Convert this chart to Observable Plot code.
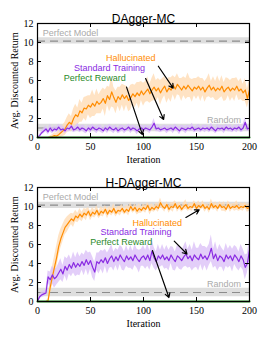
<!DOCTYPE html>
<html><head><meta charset="utf-8">
<script src="https://cdn.jsdelivr.net/npm/d3@7"></script>
<script src="https://cdn.jsdelivr.net/npm/@observablehq/plot@0.6"></script>
<style>body{margin:0;background:#fff} svg{display:block}</style>
</head><body><div id="c"></div><script>
const iterations = d3.range(0, 201, 2);
const yTicks = [0, 2, 4, 6, 8, 10, 12];
const xTicks = [0, 50, 100, 150, 200];

// ---- DAgger-MC ----
const hall1Mean = [
 0,0,0,0,0,0,0.05,0.1,0.2,0.15,
 0.3,0.5,0.7,0.9,1.3,1.6,1.4,2.0,2.4,2.2,
 2.8,2.6,3.1,3.0,3.4,3.2,3.6,3.3,3.8,3.5,
 3.7,4.1,3.6,4.4,4.0,4.8,4.2,3.7,4.3,4.0,
 4.5,4.1,4.4,3.9,4.2,4.6,4.3,4.7,4.4,4.9,
 4.5,4.8,5.1,4.6,5.0,5.3,4.9,5.2,4.7,5.1,
 5.4,4.8,5.2,5.0,5.5,5.1,5.6,5.3,5.0,5.4,
 5.1,5.5,5.2,4.9,5.3,5.1,5.4,5.0,5.3,4.8,
 5.2,5.5,5.0,5.3,4.9,5.2,5.0,5.4,4.8,5.1,
 5.3,4.9,5.2,5.0,5.4,4.9,5.1,4.7,5.0,4.1,
 5.0];
const hall1Spread = [
 0,0,0,0,0,0,0.1,0.2,0.3,0.3,
 0.4,0.5,0.6,0.7,0.8,0.9,0.8,1.0,1.1,0.9,
 1.2,1.0,1.1,1.3,1.0,1.2,1.4,1.1,1.3,1.0,
 1.2,1.1,1.4,1.0,1.3,1.6,1.1,1.2,1.0,1.3,
 1.1,1.4,1.0,1.2,1.3,1.0,1.2,1.1,1.4,1.0,
 1.2,1.1,1.3,1.0,1.2,1.4,1.1,1.0,1.3,1.1,
 1.0,1.2,1.1,1.3,1.0,1.2,1.1,0.9,1.2,1.0,
 1.1,1.3,1.0,1.2,0.9,1.1,1.0,1.2,0.9,1.1,
 1.0,1.2,0.9,1.1,1.0,1.3,0.9,1.1,1.0,1.2,
 0.9,1.1,1.0,1.2,0.9,1.0,1.1,0.9,1.2,1.0,
 1.0];
const std1Mean = [
 0,0.2,0.5,0.7,0.9,0.6,1.0,0.7,0.9,0.8,
 1.1,0.8,0.9,0.7,1.0,0.9,1.2,0.8,0.9,1.1,
 0.8,1.0,0.9,0.7,1.0,0.8,1.1,0.9,0.8,1.0,
 0.9,0.7,1.0,0.8,1.1,0.9,0.8,1.0,0.7,0.9,
 1.0,0.8,0.9,1.1,0.8,1.0,0.9,0.7,0.9,1.0,
 0.8,1.0,0.9,0.8,1.1,1.5,0.9,1.0,0.8,0.9,
 1.0,0.8,0.9,1.0,0.8,1.1,0.9,0.7,1.0,0.9,
 0.8,1.0,0.9,1.1,0.8,0.9,1.0,0.8,1.0,0.9,
 1.0,0.8,1.1,0.9,0.7,1.0,0.9,1.0,0.8,1.1,
 0.9,1.0,0.8,1.0,0.9,1.1,0.8,1.0,1.6,0.9,
 1.0];
const std1Spread = [
 0,0.1,0.2,0.3,0.3,0.3,0.4,0.3,0.3,0.3,
 0.3,0.4,0.3,0.3,0.4,0.3,0.4,0.3,0.3,0.4,
 0.3,0.3,0.4,0.3,0.3,0.4,0.3,0.3,0.4,0.3,
 0.4,0.3,0.3,0.4,0.3,0.3,0.4,0.3,0.3,0.4,
 0.3,0.4,0.3,0.3,0.4,0.3,0.3,0.4,0.3,0.3,
 0.4,0.3,0.3,0.4,0.3,0.5,0.3,0.4,0.3,0.3,
 0.3,0.4,0.3,0.3,0.4,0.3,0.3,0.4,0.3,0.3,
 0.4,0.3,0.3,0.4,0.3,0.3,0.4,0.3,0.3,0.4,
 0.3,0.3,0.4,0.3,0.3,0.4,0.3,0.3,0.4,0.3,
 0.3,0.4,0.3,0.3,0.4,0.3,0.3,0.4,0.5,0.3,
 0.3];

// ---- H-DAgger-MC ----
const hall2Mean = [
 0,0,0,0,0,0.1,1.5,2.6,3.6,4.6,
 5.8,6.6,7.2,7.8,8.1,8.4,8.7,8.5,9.0,8.8,
 9.2,8.9,9.3,9.1,9.5,9.0,9.4,9.2,9.6,9.1,
 9.5,9.3,9.7,9.2,9.6,9.4,9.8,9.3,9.6,9.5,
 9.8,9.4,9.7,9.5,10.0,9.6,9.9,9.5,9.8,9.6,
 9.9,9.7,10.1,9.6,9.9,9.7,10.0,9.8,10.4,10.0,
 9.8,10.2,9.7,10.0,9.9,10.3,9.8,10.1,9.7,10.0,
 10.2,9.8,10.0,9.9,10.3,9.8,10.1,9.9,10.2,9.8,
 10.0,9.7,10.3,9.9,10.1,9.8,10.2,9.9,10.0,9.7,
 10.2,9.8,10.0,9.9,10.1,9.8,10.0,9.9,10.1,9.8,
 9.9];
const hall2Spread = [
 0,0,0,0,0,0.2,0.8,1.0,1.1,1.2,
 1.1,1.0,0.9,0.8,0.8,0.7,0.6,0.7,0.6,0.5,
 0.6,0.5,0.5,0.6,0.4,0.5,0.5,0.4,0.5,0.4,
 0.5,0.4,0.4,0.5,0.4,0.4,0.5,0.4,0.4,0.5,
 0.4,0.3,0.4,0.5,0.4,0.3,0.4,0.4,0.5,0.3,
 0.4,0.4,0.3,0.5,0.4,0.3,0.4,0.4,0.5,0.3,
 0.4,0.3,0.4,0.4,0.5,0.3,0.4,0.4,0.3,0.4,
 0.5,0.3,0.4,0.4,0.3,0.4,0.5,0.3,0.4,0.4,
 0.3,0.4,0.5,0.3,0.4,0.4,0.3,0.4,0.5,0.3,
 0.4,0.4,0.3,0.4,0.5,0.3,0.4,0.4,0.3,0.4,
 0.4];
const std2Mean = [
 0,0.5,0.7,0.8,0.9,2.6,2.3,2.8,2.4,2.6,
 3.0,3.4,2.9,3.7,3.3,3.9,3.5,4.1,3.6,4.0,
 3.7,4.2,3.8,4.4,3.9,4.3,3.6,3.1,4.2,4.0,
 4.4,4.1,4.6,4.0,4.5,4.8,4.2,4.7,4.3,4.9,
 4.5,4.2,4.8,4.4,4.7,4.3,4.9,4.5,4.2,4.6,
 4.8,4.4,4.9,4.3,5.3,4.6,4.2,4.8,4.5,4.9,
 4.4,4.7,4.3,4.9,4.5,4.2,4.8,4.6,4.3,4.7,
 5.0,4.5,4.8,4.3,4.9,4.6,4.4,5.0,4.5,4.8,
 4.4,4.9,5.6,4.5,5.0,4.3,4.8,4.6,4.2,4.9,
 4.5,4.8,4.3,4.9,4.6,4.2,4.8,4.4,3.6,4.0,
 5.4];
const std2Spread = [
 0,0.2,0.3,0.3,0.3,0.6,0.8,0.9,1.0,0.9,
 1.0,1.1,0.9,1.0,1.2,1.0,0.9,1.1,1.0,1.2,
 1.0,0.9,1.1,1.0,1.2,0.9,1.1,1.0,0.9,1.1,
 1.0,1.2,0.9,1.1,1.0,1.2,1.0,0.9,1.1,1.0,
 1.2,1.0,1.1,0.9,1.2,1.0,1.1,1.0,1.2,0.9,
 1.1,1.0,1.2,1.0,1.3,1.1,1.0,1.2,0.9,1.1,
 1.0,1.2,1.1,0.9,1.2,1.0,1.1,1.2,1.0,1.1,
 1.3,1.0,1.2,1.1,1.4,1.0,1.2,1.1,1.3,1.0,
 1.2,1.1,1.4,1.0,1.3,1.1,1.2,1.0,1.1,1.2,
 1.0,1.1,1.2,1.0,1.1,1.0,1.2,1.1,1.3,1.0,
 1.1];

const perfectReward = [0, 0];           // at iterations 0 and 200
const perfectRewardIter = [0, 200];
const perfectModel1 = {mean: 10.15, lo: 9.85, hi: 10.5};
const random1 = {mean: 1.0, lo: 0.6, hi: 1.4};
const perfectModel2 = {mean: 10.15, lo: 9.8, hi: 10.45};
const random2 = {mean: 0.95, lo: 0.5, hi: 1.4};

const labels1 = [
  {t: "Perfect Model", x: 5, y: 11.0, c: "#aaaaaa", a: "start"},
  {t: "Random", x: 192, y: 1.85, c: "#aaaaaa", a: "end"},
  {t: "Hallucinated", x: 88, y: 8.35, c: "#ff8c00", a: "middle"},
  {t: "Standard Training", x: 68, y: 7.35, c: "#8a2be2", a: "middle"},
  {t: "Perfect Reward", x: 54, y: 6.3, c: "#2a8a2a", a: "middle"}
];
const labels2 = [
  {t: "Perfect Model", x: 5, y: 11.0, c: "#aaaaaa", a: "start"},
  {t: "Random", x: 192, y: 1.8, c: "#aaaaaa", a: "end"},
  {t: "Hallucinated", x: 113, y: 8.3, c: "#ff8c00", a: "middle"},
  {t: "Standard Training", x: 93, y: 7.27, c: "#8a2be2", a: "middle"},
  {t: "Perfect Reward", x: 79, y: 6.28, c: "#2a8a2a", a: "middle"}
];
const arrows1 = [
  {x1: 114, y1: 7.5, x2: 128, y2: 5.2},
  {x1: 102, y1: 6.2, x2: 119, y2: 1.9},
  {x1: 84, y1: 5.3, x2: 99, y2: 0.3}
];
const arrows2 = [
  {x1: 140, y1: 8.85, x2: 152.5, y2: 9.65},
  {x1: 129, y1: 6.35, x2: 141, y2: 5.0},
  {x1: 108.5, y1: 5.35, x2: 124, y2: 0.42}
];

function chart(title, hallM, hallS, stdM, stdS, pm, rnd, labels, arrows, H) {
  const W = 266, ML = 37, MR = 17, MT = 23, MB = H - 137;
  const fw = W - ML - MR, fh = H - MT - MB;
  const hall = iterations.map((x, i) => ({x, m: hallM[i], lo: hallM[i] - hallS[i], hi: hallM[i] + hallS[i]}));
  const std = iterations.map((x, i) => ({x, m: stdM[i], lo: Math.max(0, stdM[i] - stdS[i]), hi: stdM[i] + stdS[i]}));
  const pr = perfectRewardIter.map((x, i) => ({x, y: perfectReward[i]}));
  const span = [0, 200];
  const serif = "'Liberation Serif', 'DejaVu Serif', serif";
  const sans = "'Liberation Sans', Arial, sans-serif";
  const textFor = anchor => Plot.text(labels.filter(d => d.a === anchor),
    {x: "x", y: "y", text: "t", fill: "c", textAnchor: anchor, fontSize: 9, fontFamily: sans});
  return Plot.plot({
    width: W, height: H,
    marginLeft: ML, marginRight: MR, marginTop: MT, marginBottom: MB,
    style: {fontFamily: sans, fontSize: "10px", background: "white", overflow: "visible"},
    x: {domain: [0, 200]},
    y: {domain: [0, 12]},
    marks: [
      Plot.areaY(span, {x: d => d, y1: pm.lo, y2: pm.hi, fill: "#dedede"}),
      Plot.areaY(span, {x: d => d, y1: rnd.lo, y2: rnd.hi, fill: "#dedede"}),
      Plot.ruleY([pm.mean], {stroke: "#8c8c8c", strokeWidth: 1.2, strokeDasharray: "8,5"}),
      Plot.ruleY([rnd.mean], {stroke: "#8c8c8c", strokeWidth: 1.2, strokeDasharray: "8,5"}),
      Plot.areaY(hall, {x: "x", y1: "lo", y2: "hi", fill: "#ffdcb5", fillOpacity: 0.8}),
      Plot.areaY(std, {x: "x", y1: "lo", y2: "hi", fill: "#dcc2f7", fillOpacity: 0.8}),
      Plot.lineY(hall, {x: "x", y: "m", stroke: "#ff8c00", strokeWidth: 1.2}),
      Plot.lineY(std, {x: "x", y: "m", stroke: "#8a2be2", strokeWidth: 1.2}),
      Plot.lineY(pr, {x: "x", y: "y", stroke: "#238b23", strokeWidth: 2}),
      textFor("start"), textFor("middle"), textFor("end"),
      Plot.arrow(arrows, {x1: "x1", y1: "y1", x2: "x2", y2: "y2", stroke: "black", strokeWidth: 1.2, headLength: 6}),
      // inward ticks on all four sides
      Plot.tickY(yTicks, {y: d => d, stroke: "black", insetRight: fw - 4}),
      Plot.tickY(yTicks, {y: d => d, stroke: "black", insetLeft: fw - 4}),
      Plot.tickX(xTicks, {x: d => d, stroke: "black", insetTop: fh - 4}),
      Plot.tickX(xTicks, {x: d => d, stroke: "black", insetBottom: fh - 4}),
      Plot.frame({stroke: "black", strokeWidth: 1.2}),
      Plot.axisY(yTicks, {tickSize: 0, tickPadding: 4, fontFamily: serif, fontSize: 10,
        label: "Avg. Discounted Return", labelAnchor: "center", labelArrow: "none", labelOffset: 27}),
      Plot.axisX(xTicks, {tickSize: 0, tickPadding: 5, fontFamily: serif, fontSize: 10,
        label: "Iteration", labelAnchor: "center", labelArrow: "none", labelOffset: 25}),
      Plot.text([title], {frameAnchor: "top", dy: -9, fontSize: 12, fontFamily: sans, fill: "black"})
    ]
  });
}

const c = document.getElementById("c");
c.append(chart("DAgger-MC", hall1Mean, hall1Spread, std1Mean, std1Spread, perfectModel1, random1, labels1, arrows1, 164));
c.append(chart("H-DAgger-MC", hall2Mean, hall2Spread, std2Mean, std2Spread, perfectModel2, random2, labels2, arrows2, 170));
</script></body></html>
